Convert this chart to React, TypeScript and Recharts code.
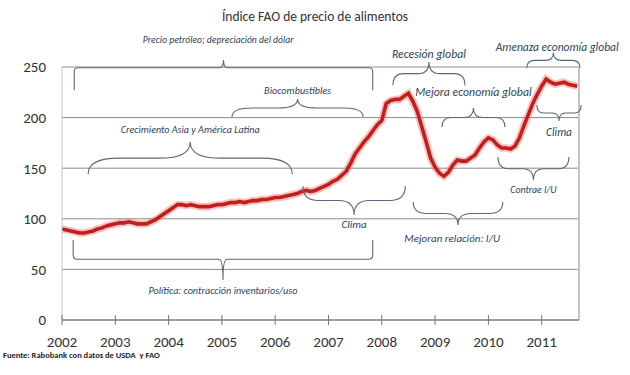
import React from "react";
import { LineChart, Line, XAxis, YAxis, CartesianGrid, ReferenceLine } from "recharts";

// valores mensuales (ene..dic)
const years = [2002, 2003, 2004, 2005, 2006, 2007, 2008, 2009, 2010, 2011];
const v2002 = [90, 89, 88, 87, 86, 86, 87, 88, 90, 91, 93, 94];
const v2003 = [95, 96, 96, 97, 96, 95, 95, 95, 97, 99, 102, 105];
const v2004 = [108, 111, 114, 114, 113, 114, 113, 112, 112, 112, 113, 114];
const v2005 = [114, 115, 116, 116, 117, 116, 117, 118, 118, 119, 119, 120];
const v2006 = [121, 121, 122, 123, 124, 125, 127, 128, 127, 128, 130, 132];
const v2007 = [134, 137, 139, 143, 147, 155, 164, 170, 176, 181, 187, 193];
const v2008 = [197, 214, 217, 218, 218, 221, 224, 216, 206, 191, 176, 160];
const v2009 = [151, 145, 142, 146, 153, 158, 157, 157, 160, 163, 170, 176];
const v2010 = [180, 178, 173, 170, 170, 169, 172, 180, 192, 203, 214, 223];
const v2011 = [231, 238, 235, 233, 234, 235, 233, 232, 231];
const series = [v2002, v2003, v2004, v2005, v2006, v2007, v2008, v2009, v2010, v2011];

const xTicks = [2002, 2003, 2004, 2005, 2006, 2007, 2008, 2009, 2010, 2011];
const yTicks = [0, 50, 100, 150, 200, 250];
const xMax = 2011.7;

type Note = {
  text: string;
  kind: "curly" | "square";
  x1: number;
  x2: number;
  yEnd: number;
  yTip: number;
  yBar?: number;
  yText: number;
  xText?: number;
  size: number;
};

const notes: Note[] = [
  { text: "Precio petróleo; depreciación del dólar", kind: "square", x1: 2002.23, x2: 2007.83, yEnd: 227, yBar: 249.3, yTip: 257, yText: 277, xText: 2004.93, size: 9.7 },
  { text: "Política: contracción inventarios/uso", kind: "square", x1: 2002.21, x2: 2007.83, yEnd: 79, yBar: 60, yTip: 39.5, yText: 29.6, size: 10.2 },
  { text: "Biocombustibles", kind: "curly", x1: 2005.19, x2: 2007.65, yEnd: 200.6, yTip: 218.4, yText: 227, size: 10.2 },
  { text: "Crecimiento Asia y América Latina", kind: "curly", x1: 2002.49, x2: 2006.32, yEnd: 144, yTip: 176, yText: 188, size: 10.1 },
  { text: "Clima", kind: "curly", x1: 2006.52, x2: 2008.44, yEnd: 132.4, yTip: 103.8, yText: 94, size: 11 },
  { text: "Recesión global", kind: "curly", x1: 2008.21, x2: 2009.56, yEnd: 232, yTip: 255, yText: 263, size: 11.8 },
  { text: "Mejora economía global", kind: "curly", x1: 2009.13, x2: 2010.31, yEnd: 190.7, yTip: 209.5, yText: 225, size: 11.8 },
  { text: "Mejoran relación: I/U", kind: "curly", x1: 2008.59, x2: 2010.27, yEnd: 116.6, yTip: 93.9, yText: 81, xText: 2009.32, size: 11 },
  { text: "Amenaza economía global", kind: "curly", x1: 2010.72, x2: 2011.72, yEnd: 249, yTip: 264, yText: 270, xText: 2011.29, size: 11.5 },
  { text: "Clima", kind: "curly", x1: 2010.91, x2: 2011.74, yEnd: 212.5, yTip: 196.6, yText: 186, size: 11.3 },
  { text: "Contrae I/U", kind: "curly", x1: 2010.18, x2: 2011.51, yEnd: 161, yTip: 138, yText: 128.5, size: 9.8 },
];

const data = series.flatMap((vals, i) =>
  vals.map((v, m) => ({ t: years[i] + m / 12, v }))
);

const FONT = "Carlito, Lato, 'Open Sans', sans-serif";
const NOTE_COLOR = "#2f3f5a";
const BRACE_COLOR = "#5a687d";

const makeShape = (n: Note) => (p: any) => {
  const { x1, y1, x2, y2 } = p;
  // escala derivada del propio segmento
  const ky = (y2 - y1) / (n.yTip - n.yEnd);
  const kx = (x2 - x1) / (n.x2 - n.x1);
  const py = (v: number) => y1 + (v - n.yEnd) * ky;
  const px = (t: number) => x1 + (t - n.x1) * kx;
  const xm = (x1 + x2) / 2;
  const yE = y1;
  const yT = y2;
  let d = "";
  if (n.kind === "square") {
    const yB = py(n.yBar as number);
    const s = yE > yB ? 1 : -1;
    const r = 4;
    d = `M${x1},${yE} L${x1},${yB + s * r} Q${x1},${yB} ${x1 + r},${yB} L${xm - r},${yB} Q${xm},${yB} ${xm},${yT} Q${xm},${yB} ${xm + r},${yB} L${x2 - r},${yB} Q${x2},${yB} ${x2},${yB + s * r} L${x2},${yE}`;
  } else {
    const yB = (yE + yT) / 2;
    const h = (x2 - x1) / 2;
    const r1 = h * 0.3;
    const r2 = h * 0.3;
    d = `M${x1},${yE} Q${x1},${yB} ${x1 + r1},${yB} L${xm - r2},${yB} Q${xm},${yB} ${xm},${yT} Q${xm},${yB} ${xm + r2},${yB} L${x2 - r1},${yB} Q${x2},${yB} ${x2},${yE}`;
  }
  const tx = px(n.xText ?? (n.x1 + n.x2) / 2);
  const ty = py(n.yText);
  return (
    <g>
      <path d={d} fill="none" stroke={BRACE_COLOR} strokeWidth={1.1} />
      <text
        x={tx}
        y={ty}
        textAnchor="middle"
        dominantBaseline="central"
        fontStyle="italic"
        fontSize={n.size}
        fontFamily={FONT}
        fill={NOTE_COLOR}
      >
        {n.text}
      </text>
    </g>
  );
};

const XTick = (props: any) => {
  const { x, y, payload } = props;
  return (
    <g>
      <line x1={x} x2={x} y1={y - 5} y2={y + 5} stroke="#777" strokeWidth={1} />
      <text x={x} y={y + 27} textAnchor="middle" fontSize={15} fontFamily={FONT} fill="#333">
        {payload.value}
      </text>
    </g>
  );
};

export default function App() {
  return (
    <div style={{ position: "absolute", left: 0, top: 0, width: 630, height: 375, background: "#fff", fontFamily: FONT }}>
      <div style={{ position: "absolute", left: 0, top: 8, width: 630, textAlign: "center", fontSize: 13.5, lineHeight: "18px", color: "#333" }}>
        Índice FAO de precio de alimentos
      </div>
      <LineChart width={630} height={375} data={data} margin={{ top: 67, right: 51, left: 0, bottom: 0 }}>
        <CartesianGrid vertical={false} stroke="#8c8c8c" strokeWidth={1} />
        <XAxis
          dataKey="t"
          type="number"
          domain={[2002, xMax]}
          ticks={xTicks}
          tick={<XTick />}
          tickLine={false}
          tickSize={0}
          tickMargin={0}
          height={55}
          axisLine={{ stroke: "#777" }}
          allowDataOverflow
        />
        <YAxis
          domain={[0, 250]}
          ticks={yTicks}
          width={62}
          tickLine={false}
          tickSize={0}
          tickMargin={16}
          axisLine={{ stroke: "#c4c4c4" }}
          tick={{ fontSize: 15, fill: "#333", fontFamily: FONT }}
        />
        <ReferenceLine x={xMax} stroke="#c4c4c4" strokeWidth={2} ifOverflow="visible" />
        <Line type="linear" dataKey="v" stroke="#ef7a72" strokeOpacity={0.45} strokeWidth={7.5} dot={false} isAnimationActive={false} />
        <Line type="linear" dataKey="v" stroke="#c21e1e" strokeWidth={3.6} dot={false} isAnimationActive={false} />
        {notes.map((n, i) => (
          <ReferenceLine
            key={i}
            segment={[{ x: n.x1, y: n.yEnd }, { x: n.x2, y: n.yTip }]}
            ifOverflow="visible"
            shape={makeShape(n)}
          />
        ))}
      </LineChart>
      <div style={{ position: "absolute", left: 3, top: 350, fontSize: 8.5, fontWeight: "bold", color: "#222", fontFamily: FONT }}>
        Fuente: Rabobank con datos de USDA&nbsp; y FAO
      </div>
    </div>
  );
}
